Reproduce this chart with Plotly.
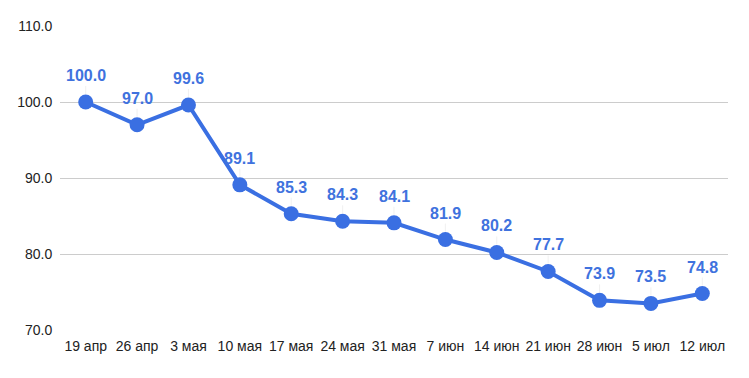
import plotly.graph_objects as go

categories = ["19 апр", "26 апр", "3 мая", "10 мая", "17 мая", "24 мая", "31 мая",
              "7 июн", "14 июн", "21 июн", "28 июн", "5 июл", "12 июл"]
values = [100.0, 97.0, 99.6, 89.1, 85.3, 84.3, 84.1, 81.9, 80.2, 77.7, 73.9, 73.5, 74.8]
y_ticks = [70, 80, 90, 100, 110]

blue = "#3a6fe2"
label_blue = "#3f72de"

fig = go.Figure()
fig.add_trace(go.Scatter(
    x=categories, y=values, mode="lines+markers",
    line=dict(color=blue, width=4),
    marker=dict(color=blue, size=15),
    hoverinfo="skip", showlegend=False,
))

for c, v in zip(categories, values):
    fig.add_annotation(
        x=c, y=v, text=f"{v:.1f}", showarrow=True, arrowhead=0, arrowwidth=0.6,
        arrowcolor="#e6e6e6", ax=0, ay=-16, yanchor="bottom", standoff=8,
        font=dict(family="Liberation Sans, Arial, sans-serif", size=16, color=label_blue, weight="bold"),
    )

fig.update_layout(
    width=741, height=370,
    margin=dict(l=52, r=21, t=18, b=48, autoexpand=False),
    paper_bgcolor="white", plot_bgcolor="white",
    font=dict(family="Liberation Sans, Arial, sans-serif", size=14, color="#222222"),
    xaxis=dict(type="category", range=[-0.5, 12.5], showgrid=False, showline=False,
               zeroline=False, ticks="outside", ticklen=3, tickcolor="rgba(0,0,0,0)",
               automargin=False),
    yaxis=dict(range=[70, 110], tickvals=y_ticks, tickformat=".1f", showgrid=True,
               gridcolor="#cccccc", gridwidth=1, zeroline=False, showline=False,
               ticks="outside", ticklen=4, tickcolor="rgba(0,0,0,0)", automargin=False),
)

fig.write_html("out.html")
